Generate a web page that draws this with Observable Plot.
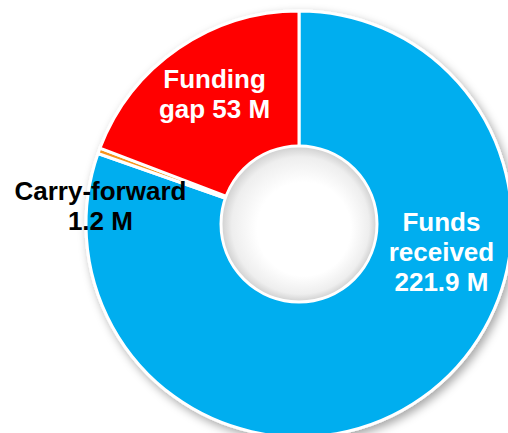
<!DOCTYPE html>
<html>
<head>
<meta charset="utf-8">
<script src="https://cdn.jsdelivr.net/npm/d3@7"></script>
<script src="https://cdn.jsdelivr.net/npm/@observablehq/plot@0.6"></script>
<style>
  html, body { margin: 0; padding: 0; background: #fff; }
  #chart svg { display: block; }
</style>
</head>
<body>
<div id="chart"></div>
<script>
// Data
const categories = ["Funds received", "Carry-forward", "Funding gap"];
const values = [221.9, 1.2, 53];
const labels = ["Funds\nreceived\n221.9 M", "Carry-forward\n1.2 M", "Funding\ngap 53 M"];
const colors = ["#00AEEF", "#F7941D", "#FF0000"];
const labelColors = ["#FFFFFF", "#000000", "#FFFFFF"];

// Layout (not data)
const W = 508, H = 433;
const CX = 299, CY = 224;
const R_OUT = 213, R_IN = 77;
// label placement: angle (deg clockwise from top) and radius from centre
const labelPlace = {
  "Funds received": {angle: 100.8, r: 144.5},
  "Carry-forward": {angle: 275.5, r: 200},
  "Funding gap": {angle: 327, r: 156}
};

const table = categories.map((c, i) => ({category: c, value: values[i], label: labels[i], color: colors[i], labelColor: labelColors[i]}));
const pie = d3.pie().sort(null).value(d => d.value).startAngle(0).endAngle(2 * Math.PI)(table);

const labelData = table.map(d => {
  const p = labelPlace[d.category];
  const a = p.angle * Math.PI / 180;
  return {...d, lx: p.r * Math.sin(a), ly: -p.r * Math.cos(a)};
});

function donut(index, scales) {
  const sx = scales.x, sy = scales.y;
  const cx = sx(0), cy = sy(0);
  const ro = sx(R_OUT) - sx(0), ri = sx(R_IN) - sx(0);
  const g = d3.create("svg:g");
  const defs = g.append("defs");
  const f = defs.append("filter").attr("id", "ds").attr("x", "-20%").attr("y", "-20%").attr("width", "140%").attr("height", "140%");
  f.append("feDropShadow").attr("dx", 3).attr("dy", 4).attr("stdDeviation", 5).attr("flood-color", "#000").attr("flood-opacity", 0.35);
  const rg = defs.append("radialGradient").attr("id", "hole").attr("cx", "50%").attr("cy", "50%").attr("r", "50%")
    .attr("fx", "58%").attr("fy", "58%");
  rg.append("stop").attr("offset", "0.6").attr("stop-color", "#ffffff");
  rg.append("stop").attr("offset", "0.88").attr("stop-color", "#eeeeee");
  rg.append("stop").attr("offset", "1").attr("stop-color", "#cfcfcf");

  const arc = d3.arc().innerRadius(ri).outerRadius(ro);
  const ring = g.append("g").attr("transform", `translate(${cx},${cy})`);
  ring.append("g").attr("filter", "url(#ds)")
    .selectAll("path").data(pie).join("path")
    .attr("d", arc)
    .attr("fill", d => d.data.color)
    .attr("stroke", "#fff")
    .attr("stroke-width", 3)
    .attr("stroke-linejoin", "round");
  ring.append("circle").attr("r", ri + 1).attr("fill", "url(#hole)").attr("stroke", "#fff").attr("stroke-width", 3);
  return g.node();
}

const chart = Plot.plot({
  width: W,
  height: H,
  margin: 0,
  x: {domain: [-CX, W - CX], range: [0, W], axis: null},
  y: {domain: [-CY, H - CY], range: [0, H], axis: null},
  marks: [
    donut,
    Plot.text(labelData, {
      x: "lx", y: "ly", text: "label",
      fill: "labelColor",
      fontSize: 26, fontWeight: "bold",
      fontFamily: "Liberation Sans, Arial, sans-serif",
      lineHeight: 1.14,
      textAnchor: "middle"
    })
  ]
});
document.getElementById("chart").append(chart);
</script>
</body>
</html>
